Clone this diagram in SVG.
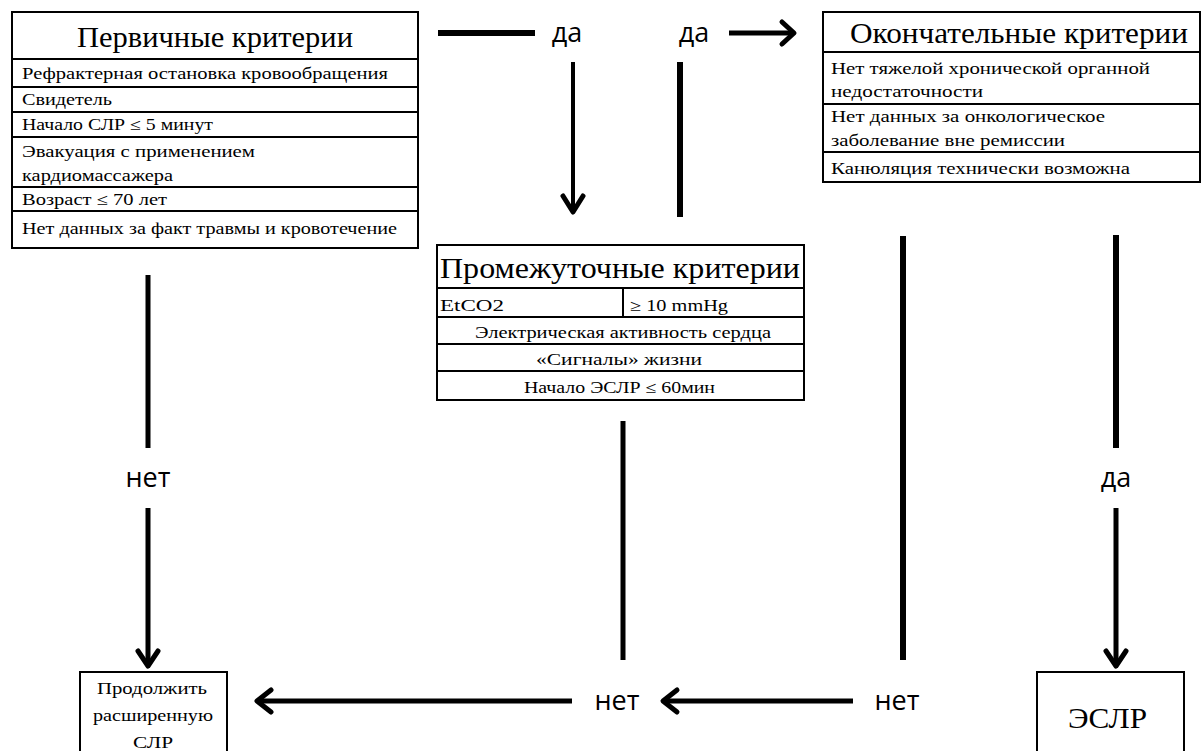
<svg xmlns="http://www.w3.org/2000/svg" width="1203" height="751" viewBox="0 0 1203 751" lang="ru" xml:lang="ru">
<style>
.box{fill:#fff;stroke:#000;stroke-width:2}
.sep{stroke:#000;stroke-width:2}
.title{font-family:'Liberation Serif','Times New Roman',serif;font-size:29px;fill:#000}
.row{font-family:'Liberation Serif','Times New Roman',serif;font-size:16px;fill:#000}
.lbl{font-family:'Open Sans','Noto Sans',sans-serif;font-size:27px;fill:#000}
.ln{stroke:#000;fill:none;stroke-width:5}
.hd{stroke:#000;fill:none;stroke-width:5;stroke-linecap:round;stroke-linejoin:round}
</style>
<rect width="1203" height="751" fill="#fff"/>
<g id="primary">
<rect class="box" x="12" y="12" width="406" height="236"/>
<line class="sep" x1="12" y1="59" x2="418" y2="59"/>
<line class="sep" x1="12" y1="87" x2="418" y2="87"/>
<line class="sep" x1="12" y1="112" x2="418" y2="112"/>
<line class="sep" x1="12" y1="137" x2="418" y2="137"/>
<line class="sep" x1="12" y1="187" x2="418" y2="187"/>
<line class="sep" x1="12" y1="211" x2="418" y2="211"/>
<text class="title" x="77" y="47" textLength="276" lengthAdjust="spacingAndGlyphs">Первичные критерии</text>
<text class="row" x="22" y="79" textLength="366" lengthAdjust="spacingAndGlyphs">Рефрактерная остановка кровообращения</text>
<text class="row" x="22" y="105" textLength="90" lengthAdjust="spacingAndGlyphs">Свидетель</text>
<text class="row" x="22" y="130" textLength="191" lengthAdjust="spacingAndGlyphs">Начало СЛР ≤ 5 минут</text>
<text class="row" x="22" y="157" textLength="233" lengthAdjust="spacingAndGlyphs">Эвакуация с применением</text>
<text class="row" x="22" y="181" textLength="151" lengthAdjust="spacingAndGlyphs">кардиомассажера</text>
<text class="row" x="22" y="205" textLength="145" lengthAdjust="spacingAndGlyphs">Возраст ≤ 70 лет</text>
<text class="row" x="22" y="234" textLength="375" lengthAdjust="spacingAndGlyphs">Нет данных за факт травмы и кровотечение</text>
</g>
<g id="final">
<rect class="box" x="823" y="12" width="377" height="170"/>
<line class="sep" x1="823" y1="52" x2="1200" y2="52"/>
<line class="sep" x1="823" y1="104" x2="1200" y2="104"/>
<line class="sep" x1="823" y1="152" x2="1200" y2="152"/>
<text class="title" x="850" y="43" textLength="338" lengthAdjust="spacingAndGlyphs">Окончательные критерии</text>
<text class="row" x="831" y="74" textLength="319" lengthAdjust="spacingAndGlyphs">Нет тяжелой хронической органной</text>
<text class="row" x="831" y="97" textLength="152" lengthAdjust="spacingAndGlyphs">недостаточности</text>
<text class="row" x="831" y="122" textLength="274" lengthAdjust="spacingAndGlyphs">Нет данных за онкологическое</text>
<text class="row" x="831" y="146" textLength="234" lengthAdjust="spacingAndGlyphs">заболевание вне ремиссии</text>
<text class="row" x="831" y="174" textLength="299" lengthAdjust="spacingAndGlyphs">Канюляция технически возможна</text>
</g>
<g id="intermediate">
<rect class="box" x="437" y="245" width="367" height="155"/>
<line class="sep" x1="437" y1="288" x2="804" y2="288"/>
<line class="sep" x1="437" y1="317" x2="804" y2="317"/>
<line class="sep" x1="623" y1="288" x2="623" y2="317"/>
<line class="sep" x1="437" y1="344" x2="804" y2="344"/>
<line class="sep" x1="437" y1="371" x2="804" y2="371"/>
<text class="title" x="440" y="278" textLength="360" lengthAdjust="spacingAndGlyphs">Промежуточные критерии</text>
<text class="row" x="440" y="311" textLength="64" lengthAdjust="spacingAndGlyphs">EtCO2</text>
<text class="row" x="630" y="311" textLength="98" lengthAdjust="spacingAndGlyphs">≥ 10 mmHg</text>
<text class="row" x="475" y="338" textLength="296" lengthAdjust="spacingAndGlyphs">Электрическая активность сердца</text>
<text class="row" x="536" y="365" textLength="166" lengthAdjust="spacingAndGlyphs">«Сигналы» жизни</text>
<text class="row" x="524" y="393" textLength="191" lengthAdjust="spacingAndGlyphs">Начало ЭСЛР ≤ 60мин</text>
</g>
<g id="continue">
<rect class="box" x="80" y="672" width="147" height="90"/>
<text class="row" x="97" y="694" textLength="110" lengthAdjust="spacingAndGlyphs">Продолжить</text>
<text class="row" x="93" y="721" textLength="120" lengthAdjust="spacingAndGlyphs">расширенную</text>
<text class="row" x="133" y="748" textLength="40" lengthAdjust="spacingAndGlyphs">СЛР</text>
</g>
<g id="ecpr">
<rect class="box" x="1037" y="672" width="147" height="90"/>
<text class="title" x="1068" y="728" textLength="79" lengthAdjust="spacingAndGlyphs">ЭСЛР</text>
</g>
<g id="connectors">
<line class="ln" x1="438" y1="33" x2="535" y2="33" style="stroke-width:6"/>
<text class="lbl" x="567" y="42" text-anchor="middle">да</text>
<text class="lbl" x="694" y="42" text-anchor="middle">да</text>
<line class="ln" x1="729" y1="33" x2="793" y2="33"/>
<polyline class="hd" points="782,22 794,33 782,44"/>
<line class="ln" x1="573" y1="62" x2="573" y2="212" style="stroke-width:4"/>
<polyline class="hd" points="563,196 573,212 583,196"/>
<line class="ln" x1="680" y1="62" x2="680" y2="217" style="stroke-width:6"/>
<line class="ln" x1="148" y1="275" x2="148" y2="448"/>
<text class="lbl" x="148" y="487" text-anchor="middle">нет</text>
<line class="ln" x1="148" y1="508" x2="148" y2="666"/>
<polyline class="hd" points="138,651 148,666 158,651"/>
<line class="ln" x1="623" y1="421" x2="623" y2="660"/>
<line class="ln" x1="903" y1="236" x2="903" y2="660" style="stroke-width:6"/>
<line class="ln" x1="1116" y1="235" x2="1116" y2="448" style="stroke-width:6"/>
<text class="lbl" x="1116" y="487" text-anchor="middle">да</text>
<line class="ln" x1="1116" y1="508" x2="1116" y2="666"/>
<polyline class="hd" points="1106,651 1116,666 1126,651"/>
<line class="ln" x1="258" y1="701" x2="572" y2="701"/>
<polyline class="hd" points="271,690 257,701 271,712"/>
<text class="lbl" x="617" y="710" text-anchor="middle">нет</text>
<line class="ln" x1="663" y1="701" x2="853" y2="701"/>
<polyline class="hd" points="677,690 663,701 677,712"/>
<text class="lbl" x="897" y="710" text-anchor="middle">нет</text>
</g>
</svg>
